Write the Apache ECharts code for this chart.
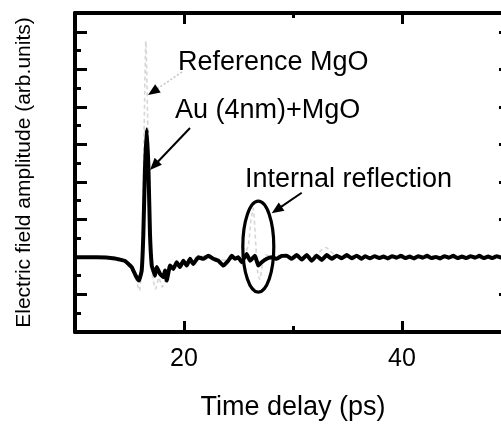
<!DOCTYPE html>
<html>
<head>
<meta charset="utf-8">
<script src="https://cdn.jsdelivr.net/npm/echarts@6/dist/echarts.min.js"></script>
<style>html,body{margin:0;padding:0;background:#fff;}#c{width:501px;height:426px;}</style>
</head>
<body>
<div id="c"></div>
<script>
// ---- data ----
const timeAu = [10, 12, 13.67, 14.59, 15.2, 15.57, 15.87, 16.12, 16.27, 16.42, 16.58, 16.74, 16.88, 17.04, 17.18, 17.34, 17.5, 17.8, 18.1, 18.26, 18.41, 18.72, 19.02, 19.33, 19.63, 19.94, 20.25, 20.55, 20.85, 21.31, 21.77, 22.23, 22.69, 23.15, 23.61, 24.06, 24.38, 24.68, 24.98, 25.29, 25.75, 26.06, 26.51, 26.82, 27.13, 27.59, 28.05, 28.5, 28.96, 29.42, 29.88, 30.34, 30.8, 31.26, 31.72, 32.17, 32.63, 33.09, 33.55, 34.01, 34.47, 34.93, 35.39, 35.84, 36.3, 36.61, 37.06, 37.5, 37.9, 38.3, 38.7, 39.1, 39.5, 39.9, 40.3, 40.7, 41.1, 41.5, 41.9, 42.3, 42.7, 43.1, 43.5, 43.9, 44.3, 44.7, 45.1, 45.5, 45.9, 46.3, 46.7, 47.1, 47.5, 47.9, 48.3, 48.7, 49.1, 49.5, 50];
const ampAu = [-0.01, -0.01, -0.04, -0.11, -0.27, -0.5, -0.63, -0.36, 0.61, 2.34, 3.4, 2.34, 0.61, -0.23, -0.36, -0.5, -0.27, -0.45, -0.54, -0.36, -0.63, -0.23, -0.32, -0.14, -0.27, -0.1, -0.23, -0.05, -0.19, -0.01, -0.05, 0.03, -0.05, -0.1, -0.23, -0.1, 0.03, -0.05, -0.01, -0.14, 0.08, -0.1, 0.03, -0.23, -0.14, -0.05, -0.01, -0.05, 0.03, 0.035, -0.05, 0.05, -0.07, 0.05, -0.1, 0.035, -0.08, 0.05, -0.05, 0.035, -0.035, 0.05, -0.035, 0.035, -0.05, 0.02, -0.035, 0.02, -0.03, 0.01, -0.04, 0.02, -0.02, 0.03, -0.03, 0.01, -0.04, 0.02, -0.02, 0.03, -0.03, 0.0, -0.04, 0.02, -0.02, 0.03, -0.03, 0.01, -0.03, 0.02, -0.02, 0.03, -0.03, 0.01, -0.03, 0.02, -0.02, 0.02, -0.01];

const timeRef = [10, 13.7, 14.6, 15.2, 15.6, 15.9, 16.1, 16.3, 16.5, 16.7, 16.9, 17.1, 17.4, 17.7, 18.0, 18.4, 18.8, 19.3, 19.9, 20.5, 21.3, 22.2, 23.1, 24.0, 24.9, 25.5, 25.9, 26.15, 26.35, 26.55, 26.75, 26.95, 27.2, 27.5, 28.0, 29.0, 30.0, 31.0, 32.0, 33.0, 34.0, 36.0, 38.0, 40.0, 42.0, 44.0, 46.0, 48.0, 50.0];
const ampRef = [0, -0.04, -0.12, -0.32, -0.6, -0.9, -0.4, 2.6, 5.75, 3.2, 0.3, -0.5, -0.85, -0.55, -0.8, -0.55, -0.3, -0.15, -0.1, -0.05, 0.0, 0.03, -0.08, -0.08, 0.0, 0.05, 0.3, 1.0, 1.3, 0.5, -0.4, -0.6, -0.2, 0.05, 0.02, 0.0, 0.03, -0.03, 0.05, 0.25, 0.02, -0.02, 0.02, 0.0, 0.02, -0.02, 0.01, 0.0, 0.0];

const xMajorTicks = [20, 40];
const xMinorTicks = [30];
const yMajorTicks = [-1, 0, 1, 2, 3, 4, 5, 6];
const yMinorTicks = [-1.5, -0.5, 0.5, 1.5, 2.5, 3.5, 4.5, 5.5];
const xTitle = 'Time delay (ps)';
const yTitle = 'Electric field amplitude (arb.units)';
const labelRef = 'Reference MgO';
const labelAu = 'Au (4nm)+MgO';
const labelInternal = 'Internal reflection';

// ---- chart ----
const FONT = '"Liberation Sans", Arial, sans-serif';
const chart = echarts.init(document.getElementById('c'), null, {renderer: 'canvas'});
const pair = (xs, ys) => xs.map((x, i) => [x, ys[i]]);

function arrow(x1, y1, x2, y2, lineColor, dashed, headColor) {
  const dx = x2 - x1, dy = y2 - y1, L = Math.hypot(dx, dy);
  const ux = dx / L, uy = dy / L, hl = 12, hw = 5;
  const bx = x2 - ux * hl, by = y2 - uy * hl;
  return [
    {type: 'line', shape: {x1: x1, y1: y1, x2: bx + ux * 2, y2: by + uy * 2}, z: 10,
     style: {stroke: lineColor, lineWidth: dashed ? 1.6 : 2, lineDash: dashed ? [2, 2] : null}},
    {type: 'polygon', shape: {points: [[x2, y2], [bx - uy * hw, by + ux * hw], [bx + uy * hw, by - ux * hw]]}, z: 10,
     style: {fill: headColor}}
  ];
}

const axisLine = {show: true, onZero: false, lineStyle: {color: '#000', width: 4}};
const noLine = {show: false, onZero: false};
const tick = (vals, len) => ({show: true, inside: true, length: len, customValues: vals, lineStyle: {color: '#000', width: 3}});
const xBase = {type: 'value', min: 10, max: 50, interval: 10, splitLine: {show: false}, axisLabel: {show: false}};
const yBase = {type: 'value', min: -2, max: 6.5, interval: 1, splitLine: {show: false}, axisLabel: {show: false}};

const option = {
  animation: false,
  backgroundColor: '#fff',
  grid: {left: 75, top: 13, width: 436, height: 319, containLabel: false, outerBoundsMode: 'none'},
  xAxis: [
    Object.assign({}, xBase, {position: 'bottom', axisLine: axisLine, axisTick: tick(xMajorTicks, 11),
     axisLabel: {show: true, customValues: xMajorTicks, fontSize: 25, color: '#000', fontFamily: FONT, margin: 15},
     name: xTitle, nameLocation: 'middle', nameGap: 62,
     nameTextStyle: {fontSize: 27, color: '#000', fontFamily: FONT}}),
    Object.assign({}, xBase, {position: 'bottom', axisLine: noLine, axisTick: tick(xMinorTicks, 6)}),
    Object.assign({}, xBase, {position: 'top', axisLine: axisLine, axisTick: tick(xMajorTicks, 11)}),
    Object.assign({}, xBase, {position: 'top', axisLine: noLine, axisTick: tick(xMinorTicks, 5)})
  ],
  yAxis: [
    Object.assign({}, yBase, {position: 'left', axisLine: axisLine, axisTick: tick(yMajorTicks, 12),
     name: yTitle, nameLocation: 'middle', nameGap: 40,
     nameTextStyle: {fontSize: 21, color: '#000', fontFamily: FONT}}),
    Object.assign({}, yBase, {position: 'left', axisLine: noLine, axisTick: tick(yMinorTicks, 6)}),
    Object.assign({}, yBase, {position: 'right', axisLine: axisLine, axisTick: tick(yMajorTicks, 12)})
  ],
  series: [
    {type: 'line', name: labelRef, xAxisIndex: 0, yAxisIndex: 0, data: pair(timeRef, ampRef),
     showSymbol: false, smooth: 0.2, z: 1,
     lineStyle: {color: '#d6d6d6', width: 1.6, type: [4, 3]}},
    {type: 'line', name: labelAu, xAxisIndex: 0, yAxisIndex: 0, data: pair(timeAu, ampAu),
     showSymbol: false, smooth: 0.1, z: 2,
     lineStyle: {color: '#000', width: 4}}
  ]
};
chart.setOption(option);

const txt = (s, x, y) => ({type: 'text', x: x, y: y, z: 10,
  style: {text: s, fill: '#000', font: '27px ' + FONT, textAlign: 'left', textVerticalAlign: 'middle'}});

chart.setOption({
  graphic: [
    txt(labelRef, 178, 63),
    txt(labelAu, 175, 111),
    txt(labelInternal, 245, 180),
    {type: 'ellipse', shape: {cx: 258.3, cy: 246.7, rx: 15.5, ry: 45.5}, z: 10,
     style: {fill: 'none', stroke: '#000', lineWidth: 3.2}},
    ...arrow(182, 72, 148, 95, '#c8c8c8', true, '#000'),
    ...arrow(190, 128, 150, 170, '#000', false, '#000'),
    ...arrow(301.7, 192.7, 271.7, 213.3, '#000', false, '#000')
  ]
});
</script>
</body>
</html>
